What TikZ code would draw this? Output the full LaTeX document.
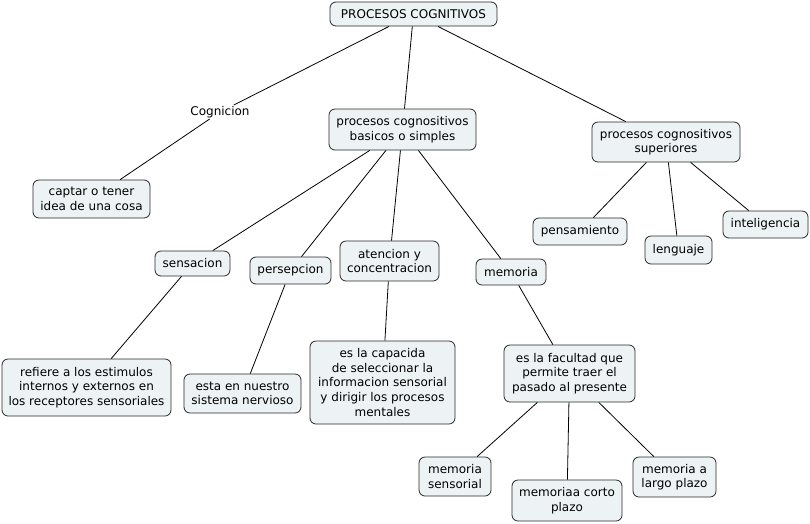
\documentclass[tikz,border=0pt]{standalone}
\usepackage{fontspec}
\setmainfont{DejaVu Sans}
\definecolor{boxfill}{RGB}{237,243,245}
\definecolor{boxdraw}{RGB}{40,40,40}
\begin{document}
\begin{tikzpicture}[x=1pt,y=-1pt,
  concept/.style={draw=boxdraw,fill=boxfill,rounded corners=6pt,line width=0.8pt,
    align=center,inner sep=0pt,font=\fontsize{12}{14.6}\selectfont},
  phrase/.style={inner sep=1pt,font=\fontsize{12}{14.6}\selectfont},
  link/.style={draw=black,line width=0.8pt}]
\useasboundingbox (0,0) rectangle (810,523);
\node[concept,minimum width=167pt,minimum height=24pt] (top) at (413.5,14) {PROCESOS COGNITIVOS};
\node[phrase] (cog) at (220,112) {Cognicion};
\node[concept,minimum width=147pt,minimum height=41pt] (bas) at (402.5,129.5) {procesos cognositivos\\basicos o simples};
\node[concept,minimum width=148pt,minimum height=40pt] (sup) at (666,142) {procesos cognositivos\\superiores};
\node[concept,minimum width=117pt,minimum height=38pt] (cap) at (91.5,199) {captar o tener\\idea de una cosa};
\node[concept,minimum width=75pt,minimum height=25pt] (sen) at (192.5,263.5) {sensacion};
\node[concept,minimum width=81pt,minimum height=27pt] (per) at (290.5,270.5) {persepcion};
\node[concept,minimum width=99pt,minimum height=40pt] (ate) at (389.5,261) {atencion y\\concentracion};
\node[concept,minimum width=70pt,minimum height=26pt] (mem) at (511,272) {memoria};
\node[concept,minimum width=94pt,minimum height=27pt] (pen) at (580,231.5) {pensamiento};
\node[concept,minimum width=67pt,minimum height=28pt] (len) at (678.5,250) {lenguaje};
\node[concept,minimum width=85pt,minimum height=27pt] (int) at (765.5,224.5) {inteligencia};
\node[concept,minimum width=169pt,minimum height=57pt] (ref) at (86.5,387.5) {refiere a los estimulos\\internos y externos en\\los receptores sensoriales};
\node[concept,minimum width=117pt,minimum height=39pt] (est) at (242.5,393.5) {esta en nuestro\\sistema nervioso};
\node[concept,minimum width=145pt,minimum height=83pt] (capa) at (382.5,382.5) {es la capacida\\de seleccionar la\\informacion sensorial\\y dirigir los procesos\\mentales};
\node[concept,minimum width=131pt,minimum height=57pt] (fac) at (569.5,373.5) {es la facultad que\\permite traer el\\pasado al presente};
\node[concept,minimum width=72pt,minimum height=39pt] (msen) at (455,476.5) {memoria\\sensorial};
\node[concept,minimum width=110pt,minimum height=41pt] (mcor) at (567,500.5) {memoriaa corto\\plazo};
\node[concept,minimum width=83pt,minimum height=40pt] (mlar) at (674.5,477) {memoria a\\largo plazo};
\draw[link] (top) -- (cog) -- (cap);
\draw[link] (top) -- (bas);
\draw[link] (top) -- (sup);
\draw[link] (bas) -- (sen);
\draw[link] (bas) -- (per);
\draw[link] (bas) -- (ate);
\draw[link] (bas) -- (mem);
\draw[link] (sup) -- (pen);
\draw[link] (sup) -- (len);
\draw[link] (sup) -- (int);
\draw[link] (sen) -- (ref);
\draw[link] (per) -- (est);
\draw[link] (ate) -- (capa);
\draw[link] (mem) -- (fac);
\draw[link] (fac) -- (msen);
\draw[link] (fac) -- (mcor);
\draw[link] (fac) -- (mlar);
\end{tikzpicture}
\end{document}
